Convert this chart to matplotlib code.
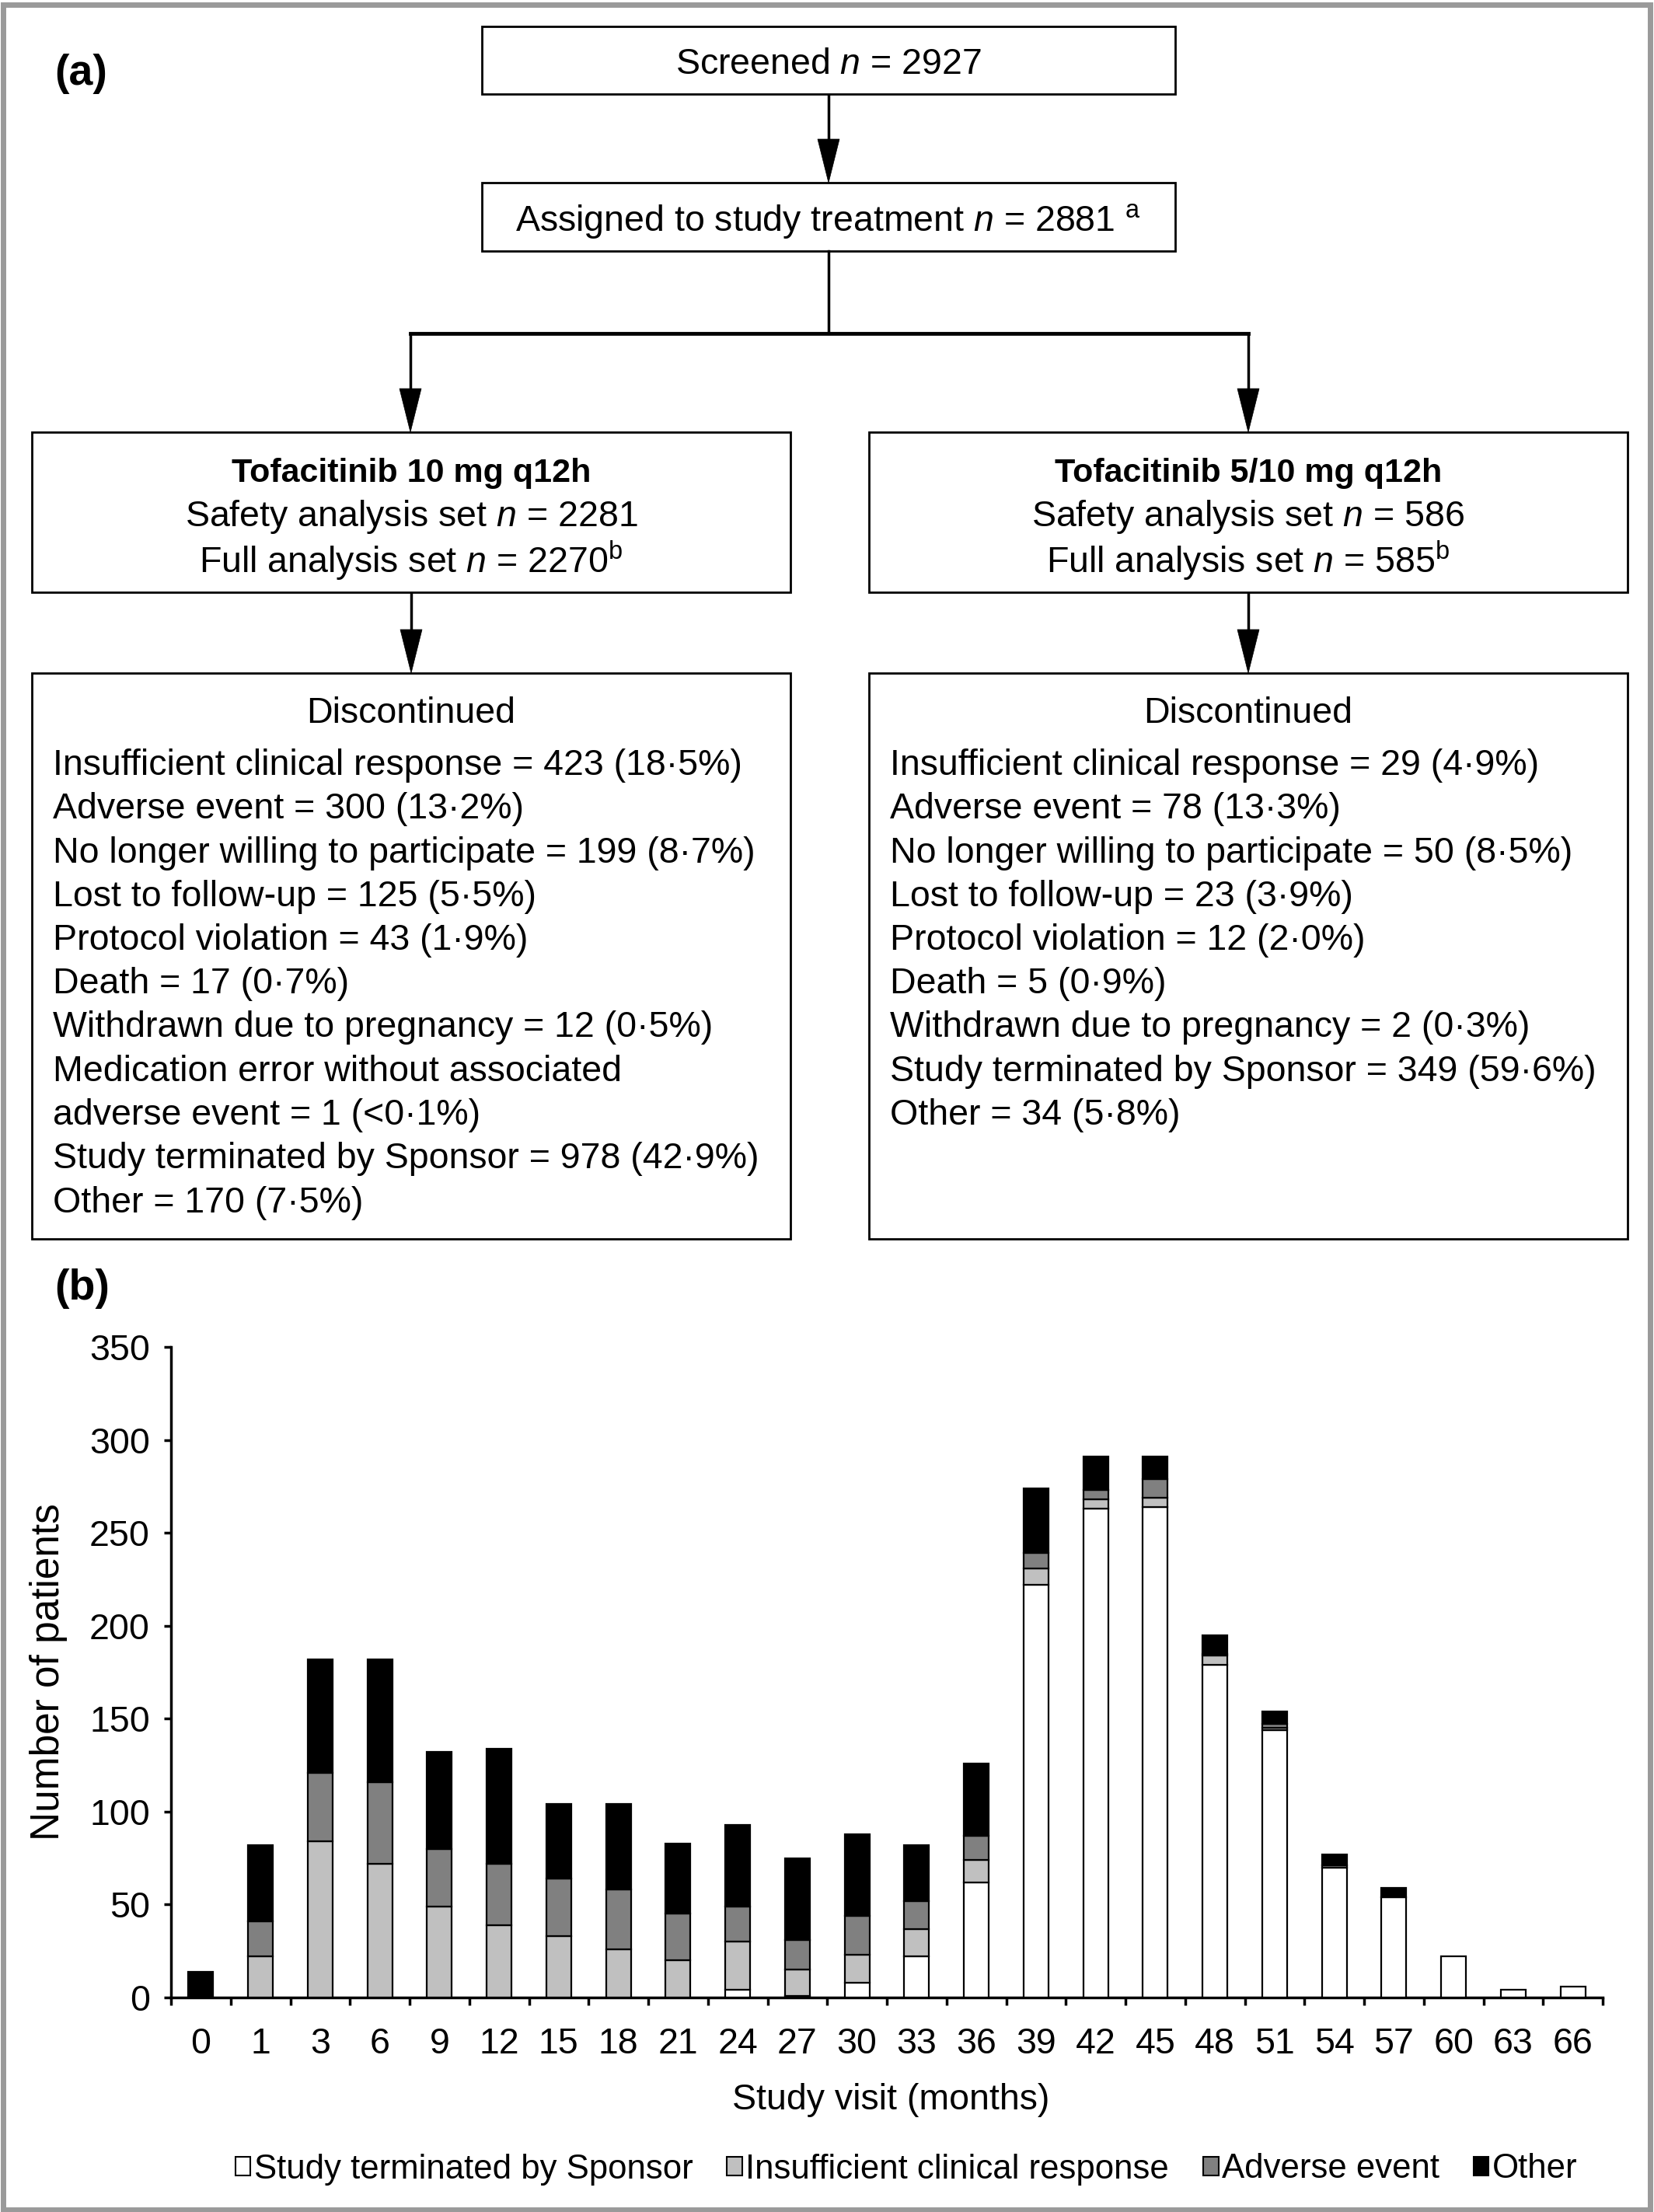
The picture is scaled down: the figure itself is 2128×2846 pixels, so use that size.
import numpy as np
import matplotlib
matplotlib.use("Agg")
import matplotlib.pyplot as plt
from matplotlib.patches import Rectangle, Polygon, Patch

plt.rcParams['font.family'] = ['Liberation Sans', 'DejaVu Sans']
plt.rcParams['mathtext.fontset'] = 'custom'
plt.rcParams['mathtext.rm'] = 'Liberation Sans'
plt.rcParams['mathtext.it'] = 'Liberation Sans:italic'
plt.rcParams['mathtext.bf'] = 'Liberation Sans:bold'

# ---- data (b): discontinuations per study visit ----
months = ['0', '1', '3', '6', '9', '12', '15', '18', '21', '24', '27', '30',
          '33', '36', '39', '42', '45', '48', '51', '54', '57', '60', '63', '66']
sponsor      = [0, 0, 0, 0, 0, 0, 0, 0, 0, 4, 1, 8, 22, 62, 222, 263, 264, 179, 144, 70, 54, 22, 4, 6]
insufficient = [0, 22, 84, 72, 49, 39, 33, 26, 20, 26, 14, 15, 15, 12, 9, 5, 5, 5, 1, 0, 0, 0, 0, 0]
adverse      = [0, 19, 37, 44, 31, 33, 31, 32, 25, 19, 16, 21, 15, 13, 8, 5, 10, 1, 2, 1, 0, 0, 0, 0]
other        = [14, 41, 61, 66, 52, 62, 40, 46, 38, 44, 44, 44, 30, 39, 35, 18, 12, 10, 7, 6, 5, 0, 0, 0]

series_names = ['Study terminated by Sponsor', 'Insufficient clinical response',
                'Adverse event', 'Other']
series_colors = ['white', '#c0c0c0', '#808080', 'black']

# ---- text (a): flow chart ----
screened_txt = r'Screened $n$ = 2927'
assigned_txt = r'Assigned to study treatment $n$ = 2881 $^{\mathrm{a}}$'
arm_titles = ['Tofacitinib 10 mg q12h', 'Tofacitinib 5/10 mg q12h']
arm_safety = [r'Safety analysis set $n$ = 2281', r'Safety analysis set $n$ = 586']
arm_full = [r'Full analysis set $n$ = 2270$^{\mathrm{b}}$', r'Full analysis set $n$ = 585$^{\mathrm{b}}$']
disc_left = [
    'Insufficient clinical response = 423 (18·5%)',
    'Adverse event = 300 (13·2%)',
    'No longer willing to participate = 199 (8·7%)',
    'Lost to follow-up = 125 (5·5%)',
    'Protocol violation = 43 (1·9%)',
    'Death = 17 (0·7%)',
    'Withdrawn due to pregnancy = 12 (0·5%)',
    'Medication error without associated',
    'adverse event = 1 (<0·1%)',
    'Study terminated by Sponsor = 978 (42·9%)',
    'Other = 170 (7·5%)',
]
disc_right = [
    'Insufficient clinical response = 29 (4·9%)',
    'Adverse event = 78 (13·3%)',
    'No longer willing to participate = 50 (8·5%)',
    'Lost to follow-up = 23 (3·9%)',
    'Protocol violation = 12 (2·0%)',
    'Death = 5 (0·9%)',
    'Withdrawn due to pregnancy = 2 (0·3%)',
    'Study terminated by Sponsor = 349 (59·6%)',
    'Other = 34 (5·8%)',
]

W, H = 2128, 2846
FS = 33.5
DY = 5   # nudge text down so the visual centre sits mid-line
fig = plt.figure(figsize=(W / 100, H / 100), dpi=100)

# full-figure axes in pixel coordinates for the flow chart
fax = fig.add_axes([0, 0, 1, 1])
fax.set_xlim(0, W)
fax.set_ylim(H, 0)
fax.axis('off')

# outer grey frame
fax.add_patch(Rectangle((3.5, 5.5), W - 8.5, H - 9, fill=False, edgecolor='#9a9a9a', lw=5))


def box(x0, y0, x1, y1):
    fax.add_patch(Rectangle((x0, y0), x1 - x0, y1 - y0, fill=False, edgecolor='black', lw=2))


def arrow(x, y0, y1):
    fax.plot([x, x], [y0, y1 - 50], color='black', lw=2.5, solid_capstyle='butt')
    fax.add_patch(Polygon([(x - 14, y1 - 56), (x + 14, y1 - 56), (x, y1)], closed=True,
                          facecolor='black', edgecolor='black', lw=0.5))


fax.text(70, 95, '(a)', fontsize=40, fontweight='bold', va='center', ha='left')
fax.text(70, 1658, '(b)', fontsize=40, fontweight='bold', va='center', ha='left')

box(620, 34, 1512, 121)
fax.text(1066, 78 + DY, screened_txt, fontsize=FS, ha='center', va='center')
arrow(1066, 121, 235)
box(620, 235, 1512, 323)
fax.text(1066, 280 + DY, assigned_txt, fontsize=FS, ha='center', va='center')

fax.plot([1066, 1066], [323, 429], color='black', lw=2.5)
fax.plot([528, 1606], [429, 429], color='black', lw=3.5, solid_capstyle='projecting')
arrow(528, 429, 556)
arrow(1606, 429, 556)

lefts = [41, 1118]
rights = [1017, 2094]
for i in range(2):
    x0, x1 = lefts[i], rights[i]
    xc = (x0 + x1) / 2
    box(x0, 556, x1, 762)
    fax.text(xc, 604 + DY, arm_titles[i], fontsize=31, fontweight='bold', ha='center', va='center')
    fax.text(xc, 660 + DY, arm_safety[i], fontsize=FS, ha='center', va='center')
    fax.text(xc, 716 + DY, arm_full[i], fontsize=FS, ha='center', va='center')
    arrow(xc, 762, 866)
    box(x0, 866, x1, 1594)
    fax.text(xc, 913 + DY, 'Discontinued', fontsize=FS, ha='center', va='center')
    lines = disc_left if i == 0 else disc_right
    for k, s in enumerate(lines):
        fax.text(x0 + 27, 980 + DY + k * 56.25, s, fontsize=FS, ha='left', va='center')

# ---- (b) stacked bar chart ----
ax = fig.add_axes([220 / W, 1 - 2570 / H, (2062 - 220) / W, (2570 - 1733) / H])
ax.patch.set_visible(False)
x = np.arange(len(months))
bottom = np.zeros(len(months))
for vals, col in zip([sponsor, insufficient, adverse, other], series_colors):
    vals = np.array(vals, dtype=float)
    lw = np.where(vals > 0, 1.6, 0.0)
    ax.bar(x, vals, width=0.42, bottom=bottom, color=col, edgecolor='black', linewidth=lw, zorder=3)
    bottom += vals

ax.set_xlim(-0.5, len(months) - 0.5)
ax.set_ylim(0, 350)
ax.set_yticks(np.arange(0, 351, 50))
ax.set_xticks(x)
ax.set_xticklabels(months)
ax.set_xticks(np.arange(-0.5, len(months), 1), minor=True)
ax.tick_params(axis='x', which='major', length=0, pad=27, labelsize=FS)
ax.tick_params(axis='x', which='minor', length=7, width=2.5, direction='out')
ax.tick_params(axis='y', which='major', length=6.5, width=2.5, pad=13, labelsize=FS)
for side in ['top', 'right']:
    ax.spines[side].set_visible(False)
for side in ['left', 'bottom']:
    ax.spines[side].set_linewidth(2.5)

ax.set_xlabel('Study visit (months)', fontsize=FS)
ax.xaxis.set_label_coords(0.503, -0.132)
ax.xaxis.label.set_va('top')
ax.set_ylabel('Number of patients', fontsize=37)
ax.yaxis.set_label_coords(-0.072, 0.5)

handles = [Patch(facecolor=c, edgecolor='black', lw=1.5) for c in series_colors]
fig.legend(handles, series_names, loc='center', bbox_to_anchor=(1166 / W, 1 - 2791 / H),
           ncol=4, frameon=False, fontsize=31.5, handlelength=0.45, handleheight=0.45,
           handletextpad=0.1, columnspacing=1.0, borderpad=0, borderaxespad=0)

fig.savefig('out.png', dpi=100)
